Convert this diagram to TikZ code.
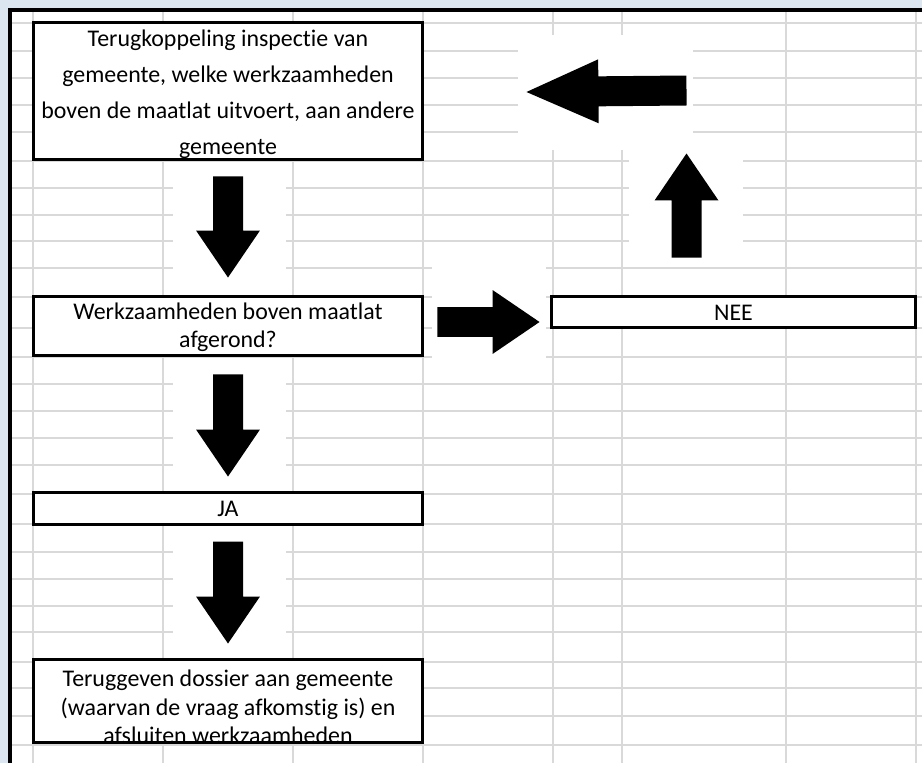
\documentclass[tikz,border=0pt]{standalone}
\usepackage{fontspec}
\setmainfont{Carlito}[Ligatures=NoCommon]
\usetikzlibrary{calc}
\definecolor{frameblue}{RGB}{220,230,241}
\definecolor{gridgray}{RGB}{217,217,217}
\tikzset{
  cell/.style={draw=black, fill=white, line width=0.06cm, inner sep=0pt},
  celltext/.style={align=center, inner sep=0pt, font=\fontsize{13.6}{16.2}\selectfont},
  gridline/.style={gridgray, line width=0.03cm}
}
% fat block arrow: #1 head length, #2 tail, #3 tip
\newcommand{\blockarrow}[3]{%
  \coordinate (ba-h) at ($(#3)!#1!(#2)$);
  \fill[black] ($(#2)!0.3cm!90:(#3)$) -- ($(ba-h)!0.3cm!90:(#3)$)
    -- ($(ba-h)!0.64cm!90:(#3)$) -- (#3) -- ($(ba-h)!0.64cm!-90:(#3)$)
    -- ($(ba-h)!0.3cm!-90:(#3)$) -- ($(#2)!0.3cm!-90:(#3)$) -- cycle;
}

\begin{document}
\begin{tikzpicture}[x=0.02cm, y=-0.02cm]

    \useasboundingbox (0,0) rectangle (922,763);
    \fill[frameblue] (0,0) rectangle (922,763);
    \fill[white] (10,10) rectangle (922,763);

    % spreadsheet grid
    \foreach \gx in {33,163,293,423,553,622,786,916}
      \draw[gridline] (\gx,12) -- (\gx,763);
    \foreach \gy in {23,51,78,105,132,161,188,215,241,268,297,328,357,384,411,438,465,494,524,552,579,606,632,662,688,716,745}
      \draw[gridline] (12,\gy) -- (922,\gy);

    % white frames of the arrow shapes
    \fill[white] (518,35) rectangle (693,150);
    \fill[white] (629,150) rectangle (743,264);
    \fill[white] (432,262) rectangle (546,362);
    \fill[white] (173,162) rectangle (286,294);
    \fill[white] (173,358) rectangle (286,490);
    \fill[white] (173,526) rectangle (286,657);

    \draw[black, line width=0.08cm] (10,763) -- (10,10) -- (922,10);

    \node[cell, minimum width=7.8cm, minimum height=2.76cm] (terugk) at (228,91) {};
    \node[cell, minimum width=7.8cm, minimum height=1.2cm] (afgerond) at (228,326) {};
    \node[cell, minimum width=7.8cm, minimum height=0.64cm] (ja) at (228,508) {};
    \node[cell, minimum width=7.8cm, minimum height=1.68cm] (teruggeven) at (228,701) {};
    \node[cell, minimum width=7.3cm, minimum height=0.64cm] (nee) at (733.5,312) {};

    \node[celltext, font=\fontsize{13.6}{20.4}\selectfont] (terugk-t) at ($(terugk.center)+(0,3)$)
      {Terugkoppeling inspectie van\\gemeente, welke werkzaamheden\\boven de maatlat uitvoert, aan andere\\gemeente};
    \node[celltext] (afgerond-t) at ($(afgerond.center)+(0,1.5)$) {Werkzaamheden boven maatlat\\afgerond?};
    \node[celltext] (ja-t) at ($(ja.center)+(0,1)$) {JA};
    \node[celltext] (teruggeven-t) at ($(teruggeven.center)+(0,6)$)
      {Teruggeven dossier aan gemeente\\(waarvan de vraag afkomstig is) en\\afsluiten werkzaamheden};
    \node[celltext] (nee-t) at ($(nee.center)+(0,1)$) {NEE};

    \coordinate (d1a) at ($(terugk.south)+(0,15)$);
    \coordinate (d1b) at ($(afgerond.north)+(0,-17)$);
    \coordinate (d2a) at ($(afgerond.south)+(0,17)$);
    \coordinate (d2b) at ($(ja.north)+(0,-14)$);
    \coordinate (d3a) at ($(ja.south)+(0,16)$);
    \coordinate (d3b) at ($(teruggeven.north)+(0,-14)$);
    \coordinate (ra) at ($(afgerond.east)+(13,-4)$);
    \coordinate (rb) at ($(nee.west)+(-10,10)$);
    \coordinate (ua) at ($(nee.north)+(-47,-37)$);
    \coordinate (ub) at ($(nee.north)+(-47,-141)$);
    \coordinate (la) at ($(ub)+(0,-63)$);
    \coordinate (lb) at ($(terugk.east)+(102,1)$);

    \blockarrow{0.94cm}{d1a}{d1b}
    \blockarrow{0.94cm}{d2a}{d2b}
    \blockarrow{0.94cm}{d3a}{d3b}
    \blockarrow{0.94cm}{ra}{rb}
    \blockarrow{0.94cm}{ua}{ub}
    \blockarrow{1.44cm}{la}{lb}
  \end{tikzpicture}
\end{document}
